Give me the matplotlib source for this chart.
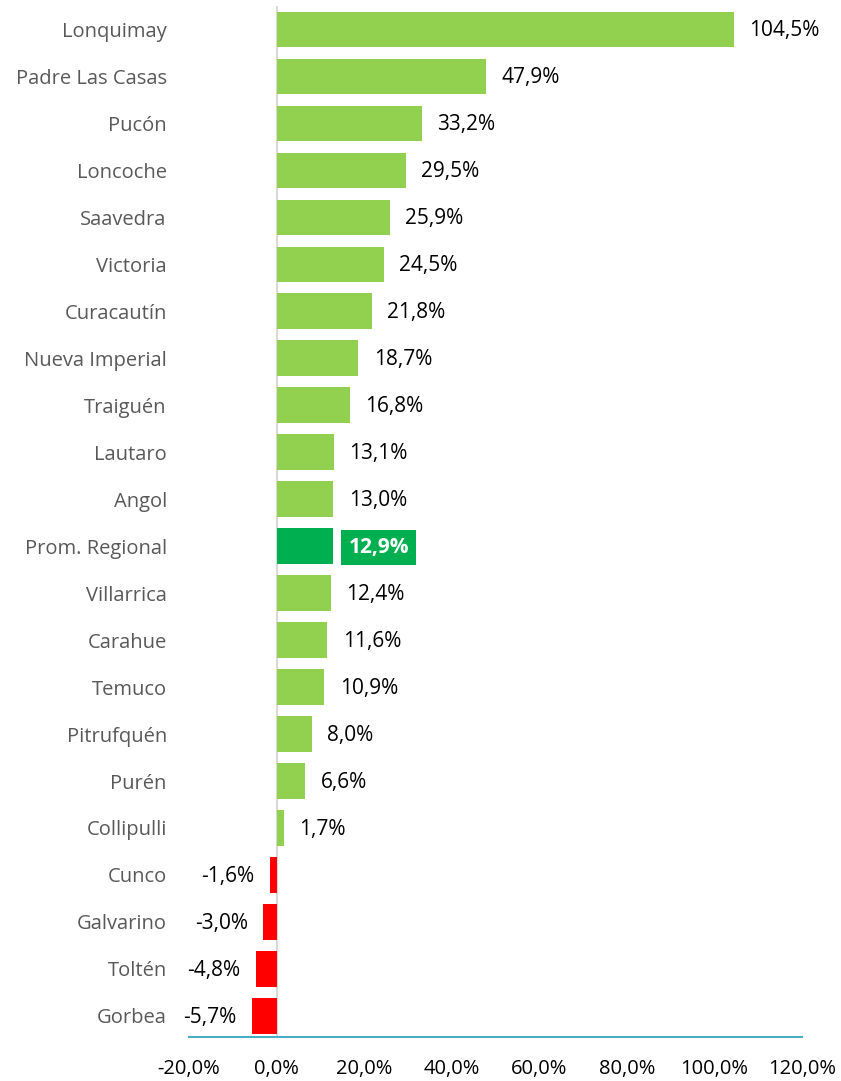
import numpy as np
import matplotlib.pyplot as plt

communes = ["Lonquimay", "Padre Las Casas", "Pucón", "Loncoche", "Saavedra",
            "Victoria", "Curacautín", "Nueva Imperial", "Traiguén", "Lautaro",
            "Angol", "Prom. Regional", "Villarrica", "Carahue", "Temuco",
            "Pitrufquén", "Purén", "Collipulli", "Cunco", "Galvarino",
            "Toltén", "Gorbea"]
values = [104.5, 47.9, 33.2, 29.5, 25.9, 24.5, 21.8, 18.7, 16.8, 13.1,
          13.0, 12.9, 12.4, 11.6, 10.9, 8.0, 6.6, 1.7, -1.6, -3.0, -4.8, -5.7]
highlight = "Prom. Regional"
xticks = [-20, 0, 20, 40, 60, 80, 100, 120]

plt.rcParams['font.family'] = ['Open Sans', 'DejaVu Sans']

def fmt(v):
    return ("%.1f%%" % v).replace(".", ",")

fig = plt.figure(figsize=(8.41, 10.81), dpi=100)
ax = fig.add_axes([0.2247, 0.0407, 0.729, 0.9537])

y = np.arange(len(communes))
colors = []
for c, v in zip(communes, values):
    if c == highlight:
        colors.append("#00B050")
    elif v < 0:
        colors.append("#FF0000")
    else:
        colors.append("#92D050")

ax.axvline(0, color="#D9D9D9", lw=1.5, zorder=1)
ax.barh(y, values, height=0.76, color=colors, zorder=2)

for yi, c, v in zip(y, communes, values):
    if c == highlight:
        ax.annotate(fmt(v), (v, yi), xytext=(11, -1), textcoords="offset points",
                    va="center", ha="left", fontsize=15, color="white",
                    fontweight="bold",
                    bbox=dict(boxstyle="square,pad=0.35", fc="#00B050", ec="none"))
    elif v >= 0:
        ax.annotate(fmt(v), (v, yi), xytext=(11, -1), textcoords="offset points",
                    va="center", ha="left", fontsize=15, color="black")
    else:
        ax.annotate(fmt(v), (v, yi), xytext=(-11, -1), textcoords="offset points",
                    va="center", ha="right", fontsize=15, color="black")

ax.set_xlim(-20, 120)
ax.set_ylim(len(communes) - 0.55, -0.5)
ax.set_yticks(y)
ax.set_yticklabels(communes, fontsize=14.5, color="#595959")
ax.set_xticks(xticks)
ax.set_xticklabels([fmt(t) for t in xticks], fontsize=14.5, color="black")
ax.tick_params(axis="both", length=0)
ax.tick_params(axis="y", pad=16)
ax.tick_params(axis="x", pad=16)

for s in ["top", "right", "left"]:
    ax.spines[s].set_visible(False)
ax.spines["bottom"].set_color("#4BACC6")
ax.spines["bottom"].set_linewidth(1.5)

fig.savefig("out.png", dpi=100)
